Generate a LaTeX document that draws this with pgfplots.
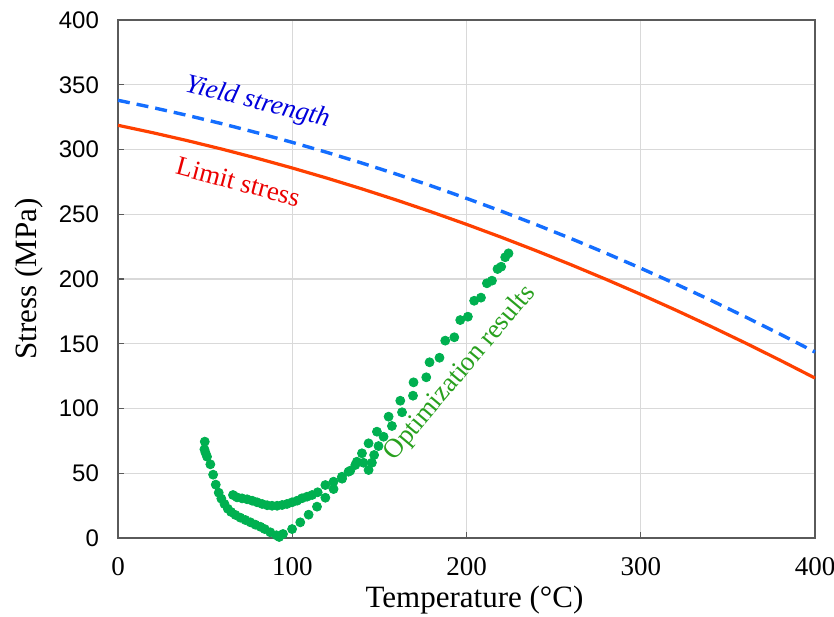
\documentclass[border=0pt]{standalone}
\usepackage{fontspec}
\setmainfont{Liberation Serif}
\setsansfont{Liberation Sans}
\usepackage{pgfplots}
\pgfplotsset{compat=1.18}
\usetikzlibrary{calc}
\definecolor{gridgray}{RGB}{217,217,217}
\definecolor{axgray}{RGB}{90,90,90}
\definecolor{limred}{RGB}{255,64,0}
\definecolor{yldblue}{RGB}{20,110,255}
\definecolor{dotgreen}{RGB}{0,176,80}
\definecolor{txtgreen}{RGB}{40,160,30}
\definecolor{txtblue}{RGB}{0,0,220}
\definecolor{txtred}{RGB}{235,0,0}
\begin{document}
\begin{tikzpicture}
\begin{axis}[
  name=ax,
  scale only axis,
  width=348.5pt, height=259pt,
  xmin=0, xmax=400, ymin=0, ymax=400,
  xtick={0,100,200,300,400},
  ytick={0,50,100,150,200,250,300,350,400},
  grid=major,
  major grid style={gridgray, line width=0.6pt},
  axis line style={axgray, line width=0.7pt},
  tick align=inside,
  tick pos=left,
  major tick length=3pt,
  tick style={axgray, line width=0.6pt},
  /pgf/number format/assume math mode=true,
  xticklabel style={font=\rmfamily\fontsize{13.5}{14}\selectfont, yshift=-6pt},
  yticklabel style={font=\sffamily\fontsize{12}{14}\selectfont, xshift=-6pt},
  xlabel={Temperature (°C)},
  ylabel={Stress (MPa)},
  xlabel style={font=\fontsize{15.5}{17}\selectfont, yshift=1.5pt, xshift=4pt},
  ylabel style={font=\fontsize{15.5}{17}\selectfont, yshift=1pt},
  clip=false,
]
\addplot[yldblue, line width=1.7pt, dash pattern=on 6pt off 3.5pt] coordinates {
(0,338.0) (20,332.37) (40,326.30) (60,319.81) (80,312.88) (100,305.53)
(120,297.74) (140,289.53) (160,280.88) (180,271.81) (200,262.3)
(220,252.37) (240,241.99) (260,231.21) (280,219.98) (300,208.33)
(320,196.24) (340,183.73) (360,170.78) (380,157.41) (400,143.6)
};
\addplot[limred, line width=1.6pt] coordinates {
(0,318.7) (20,312.95) (40,306.78) (60,300.18) (80,293.16) (100,285.73)
(120,277.86) (140,269.58) (160,260.88) (180,251.75) (200,242.2)
(220,232.23) (240,221.84) (260,211.02) (280,199.78) (300,188.13)
(320,176.04) (340,163.54) (360,150.62) (380,137.27) (400,123.5)
};
\addplot[only marks, mark=*, mark size=2.25pt, dotgreen, mark options={draw=dotgreen, fill=dotgreen}] coordinates {
(49.8,74.4) (49.6,68.5) (50.2,65.9) (51.1,62.8) (53.0,56.9) (54.6,48.9)
(56.1,41.2) (57.8,35.0) (59.3,30.4) (61.1,26.3) (63.0,22.6) (64.9,20.1)
(67.4,17.8) (70.2,15.7) (73.1,13.9) (76.0,12.1) (78.8,10.3) (81.7,8.7)
(84.2,6.9) (87.4,4.4) (90.9,2.1) (92.5,0.8) (94.7,3.1) (99.9,6.9)
(104.6,12.1) (109.4,18.0) (114.2,24.2) (119.0,31.1) (123.7,37.8)
(128.6,45.8) (133.3,52.0) (137.1,58.9) (140.9,58.1) (143.8,52.5)
(145.7,58.1) (147.0,64.1) (149.5,71.0) (152.4,78.2) (157.2,86.5)
(163.0,97.1) (169.3,109.9) (176.9,124.1) (184.5,139.2) (193.0,155.0)
(200.8,170.9) (208.3,185.6) (214.6,198.7) (219.9,209.5) (224.1,219.8)
(66.0,33.2) (68.3,31.4) (71.2,30.6) (74.1,29.9) (77.0,28.8) (79.8,27.6)
(82.7,26.3) (85.6,25.3) (88.4,24.9) (91.3,24.9) (94.2,25.5) (97.0,26.3)
(99.9,27.6) (102.8,28.8) (105.6,30.7) (108.5,31.9) (111.4,33.2)
(114.6,35.3) (119.0,40.9) (123.7,43.5) (128.5,47.3) (132.3,51.2)
(136.2,56.4) (140.0,65.4) (143.8,73.1) (148.6,82.1) (155.3,93.7)
(162.0,106.0) (169.6,120.2) (178.8,135.7) (187.8,152.4) (196.4,168.3)
(204.4,183.2) (211.7,196.7) (217.8,207.7) (222.2,216.8)
};
\node[txtblue, rotate=-14, font=\itshape\fontsize{13.5}{15}\selectfont] at (axis cs:80,336) {Yield strength};
\node[txtred, rotate=-15, font=\fontsize{13.5}{15}\selectfont] at (axis cs:69,275) {Limit stress};
\node[txtgreen, rotate=50, font=\fontsize{13.5}{15}\selectfont] at (axis cs:196.4,127.2) {Optimization results};
\end{axis}
\pgfresetboundingbox
\path[use as bounding box] ($(ax.south west)+(-59pt,-39pt)$) rectangle ($(ax.north east)+(9.5pt,10pt)$);
\end{tikzpicture}
\end{document}
